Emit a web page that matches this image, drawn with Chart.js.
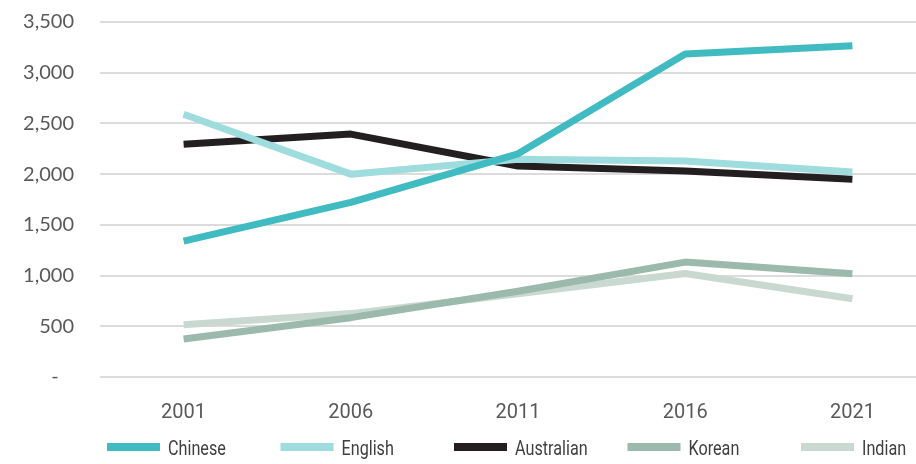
<!DOCTYPE html>
<html>
<head>
<meta charset="utf-8">
<script src="https://cdn.jsdelivr.net/npm/chart.js@4"></script>
<style>
  html, body { margin: 0; padding: 0; background: #fff; overflow: hidden; }
  #wrap { position: relative; width: 940px; height: 464px; }
</style>
</head>
<body>
<div id="wrap"><canvas id="langChart"></canvas></div>
<script>
// Data
const years = ["2001", "2006", "2011", "2016", "2021"];
const chinese = [1340, 1722, 2200, 3185, 3265];
const english = [2590, 2000, 2147, 2130, 2022];
const australian = [2295, 2395, 2080, 2032, 1950];
const korean = [375, 585, 845, 1133, 1018];
const indian = [515, 625, 820, 1021, 771];
const yTicks = [0, 500, 1000, 1500, 2000, 2500, 3000, 3500];

const seriesNames = ["Chinese", "English", "Australian", "Korean", "Indian"];
const seriesColors = ["#3fbbc1", "#9edcde", "#231f20", "#9bb9ad", "#c9d8d1"];

// Legend with evenly spaced entries; text squeezed a bit to look condensed
const fixedLegend = {
    id: "fixedLegend",
    afterDraw(chart, args, opts) {
        const ctx = chart.ctx;
        chart.data.datasets.forEach((ds, i) => {
            const x = opts.startX + i * opts.step;
            ctx.save();
            ctx.fillStyle = ds.borderColor;
            ctx.fillRect(x, opts.y - 4, 53, 8);
            ctx.translate(x + 61, opts.y + 3);
            ctx.scale(0.83, 1);
            ctx.font = "19.5px Roboto, sans-serif";
            ctx.textBaseline = "middle";
            ctx.textAlign = "left";
            ctx.fillStyle = "#404040";
            ctx.fillText(ds.label, 0, 0);
            ctx.restore();
        });
    }
};

function makeSet(i, values) {
    return {
        label: seriesNames[i],
        data: values,
        borderColor: seriesColors[i],
        backgroundColor: seriesColors[i],
        borderWidth: 7,
        borderCapStyle: "butt",
        borderJoinStyle: "round",
        pointRadius: 0,
        tension: 0,
        fill: false
    };
}

function drawChart() {
    const ctx = document.getElementById("langChart").getContext("2d");
    new Chart(ctx, {
        type: "line",
        data: {
            labels: years,
            datasets: [
                makeSet(0, chinese),
                makeSet(1, english),
                makeSet(2, australian),
                makeSet(3, korean),
                makeSet(4, indian)
            ]
        },
        options: {
            responsive: true,
            maintainAspectRatio: false,
            animation: false,
            layout: { padding: { top: 0, right: 4, bottom: 43, left: 0 } },
            plugins: {
                legend: { display: false },
                tooltip: { enabled: false },
                fixedLegend: { startX: 107, step: 173.5, y: 447 }
            },
            scales: {
                x: {
                    offset: true,
                    grid: { display: false },
                    border: { display: false },
                    afterFit: (scale) => { scale.height = 44; },
                    ticks: {
                        color: "#595959",
                        padding: 16,
                        font: { family: "Roboto, sans-serif", size: 20 }
                    }
                },
                y: {
                    min: 0,
                    max: 3500,
                    afterBuildTicks: (scale) => {
                        scale.ticks = yTicks.map(v => ({ value: v }));
                    },
                    afterFit: (scale) => {
                        scale.width = 100;
                        scale.paddingTop = 22;
                        scale.paddingBottom = 0;
                    },
                    grid: { color: "#dcdcdc", lineWidth: 2, drawTicks: false },
                    border: { display: false },
                    ticks: {
                        color: "#595959",
                        padding: 26,
                        font: { family: "Lato, 'Open Sans', sans-serif", size: 20 },
                        callback: (v) => v === 0 ? "-   " : v.toLocaleString("en-US")
                    }
                }
            }
        },
        plugins: [fixedLegend]
    });
}

// wait for the installed fonts so the canvas measures the right glyphs
Promise.all([
    document.fonts.load("20px Roboto"),
    document.fonts.load("20px Lato")
]).catch(() => {}).then(drawChart);
</script>
</body>
</html>
